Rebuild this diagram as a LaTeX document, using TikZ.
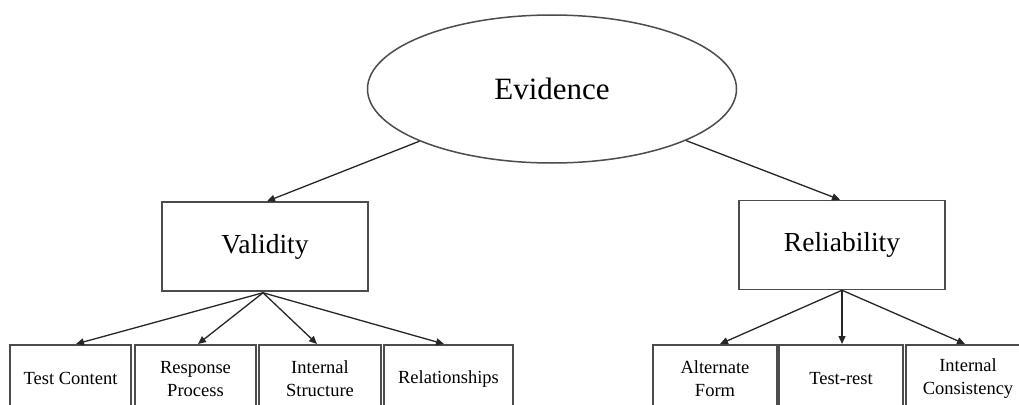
\documentclass[tikz,border=0pt]{standalone}
\usepackage{fontspec}
\setmainfont{Liberation Serif}
\usetikzlibrary{arrows.meta,shapes.geometric,calc}
\begin{document}
\begin{tikzpicture}[x=1pt,y=-1pt,
  edge/.style={draw=black!85,line width=1.3pt,-{Triangle[length=8pt,width=7pt]}},
  boxline/.style={draw=black!70,line width=1.5pt,fill=white,inner sep=0pt},
  topbox/.style={boxline,rectangle,minimum width=206pt,minimum height=89pt,font=\fontsize{27.5}{33}\selectfont},
  leaf/.style={boxline,rectangle,anchor=north,minimum height=68pt,align=center,font=\fontsize{18.5}{23}\selectfont}]
\useasboundingbox (0,0) rectangle (1019,404);
\clip (0,0) rectangle (1019,404);
\fill[white] (0,0) rectangle (1019,404);
\node[boxline,ellipse,minimum width=369pt,minimum height=148pt,font=\fontsize{31}{37}\selectfont] (ev) at (552,89) {Evidence};
\node[topbox] (val) at (265,246.5) {Validity};
\node[topbox] (rel) at (842,245) {Reliability};
\node[leaf,minimum width=121pt] (b1) at (70.5,344) {Test Content};
\node[leaf,minimum width=121pt] (b2) at (195.5,344) {Response\\Process};
\node[leaf,minimum width=122pt] (b3) at (320,344) {Internal\\Structure};
\node[leaf,minimum width=129pt] (b4) at (448.5,344) {Relationships};
\node[leaf,minimum width=124pt] (c1) at (715,344) {Alternate\\Form};
\node[leaf,minimum width=124pt] (c2) at (841,344) {Test-rest};
\node[leaf,minimum width=124pt] (c3) at (968,344) {Internal\\Consistency};
\draw[edge] (ev) -- ($(val.north)+(2,0)$);
\draw[edge] (ev) -- ($(rel.north)+(-2,0)$);
\coordinate (vs) at ($(val.south)+(-2,1)$);
\coordinate (rs) at ($(rel.south)+(0,0)$);
\draw[edge] (vs) -- ($(b1.north)+(5.5,0)$);
\draw[edge] (vs) -- ($(b2.north)+(2.5,0)$);
\draw[edge] (vs) -- ($(b3.north)+(-3,0)$);
\draw[edge] (vs) -- ($(b4.north)+(-4.5,0)$);
\draw[edge] (rs) -- ($(c1.north)+(5,0)$);
\draw[edge] (rs) -- ($(c2.north)+(1,0)$);
\draw[edge] (rs) -- ($(c3.north)+(-3,0)$);
\end{tikzpicture}
\end{document}
